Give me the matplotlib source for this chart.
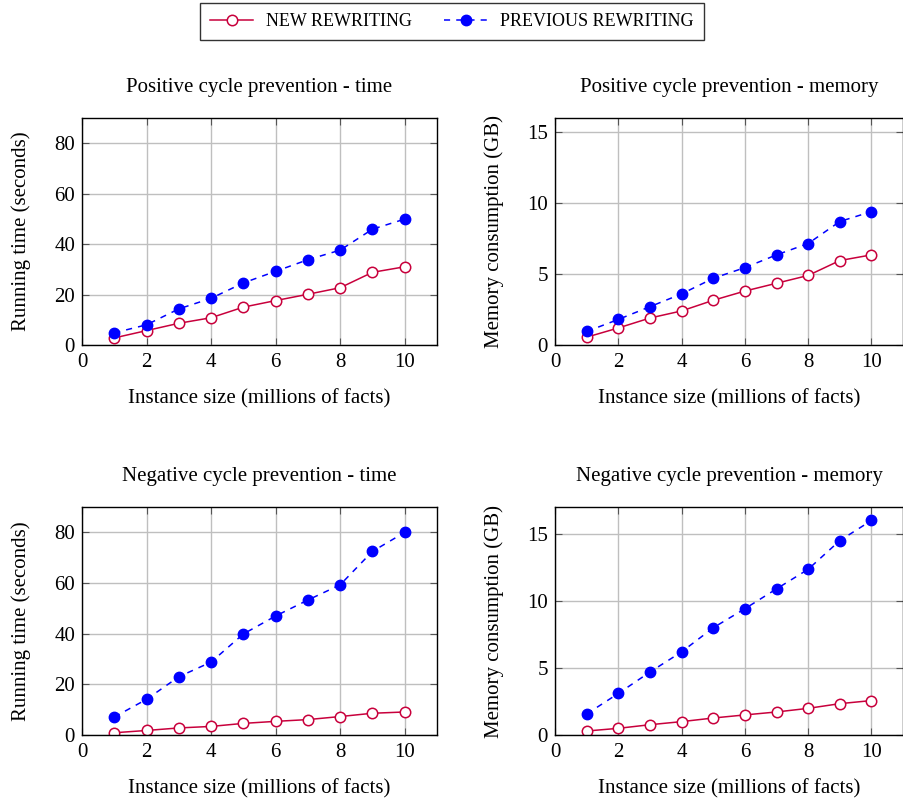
import matplotlib

matplotlib.use("Agg")
import matplotlib.pyplot as plt

plt.rcParams["font.family"] = ["Liberation Serif", "DejaVu Serif"]
plt.rcParams["mathtext.fontset"] = "stix"

sizes = [1, 2, 3, 4, 5, 6, 7, 8, 9, 10]

pos_time_new = [2.8, 5.7, 8.6, 10.8, 15.0, 17.6, 20.1, 22.7, 28.8, 31.0]
pos_time_prev = [4.8, 8.0, 14.3, 18.5, 24.6, 29.2, 33.8, 37.6, 45.9, 49.9]
pos_mem_new = [0.55, 1.2, 1.9, 2.4, 3.15, 3.8, 4.35, 4.9, 5.95, 6.35]
pos_mem_prev = [0.95, 1.8, 2.7, 3.6, 4.7, 5.45, 6.35, 7.15, 8.7, 9.4]
neg_time_new = [0.9, 1.8, 2.8, 3.4, 4.6, 5.4, 6.1, 7.3, 8.6, 9.1]
neg_time_prev = [7.1, 14.1, 23.0, 28.8, 39.9, 47.0, 53.3, 59.3, 72.5, 80.0]
neg_mem_new = [0.3, 0.5, 0.77, 1.0, 1.27, 1.5, 1.72, 1.99, 2.34, 2.57]
neg_mem_prev = [1.57, 3.1, 4.7, 6.2, 8.0, 9.42, 10.9, 12.36, 14.5, 16.0]

panels = [
    ("Positive cycle prevention - time", "Running time (seconds)", pos_time_new, pos_time_prev, 90, [0, 20, 40, 60, 80]),
    ("Positive cycle prevention - memory", "Memory consumption (GB)", pos_mem_new, pos_mem_prev, 16, [0, 5, 10, 15]),
    ("Negative cycle prevention - time", "Running time (seconds)", neg_time_new, neg_time_prev, 90, [0, 20, 40, 60, 80]),
    ("Negative cycle prevention - memory", "Memory consumption (GB)", neg_mem_new, neg_mem_prev, 17, [0, 5, 10, 15]),
]

RED = "#c8003c"
BLUE = "#0000ff"
FS = 15

fig = plt.figure(figsize=(9.04, 7.98), dpi=100)
rects = [
    (0.0907, 0.5677, 0.3927, 0.2845),
    (0.614, 0.5677, 0.385, 0.2845),
    (0.0907, 0.0789, 0.3927, 0.2857),
    (0.614, 0.0789, 0.385, 0.2857),
]

handles = None
for rect, (title, ylabel, new, prev, ytop, yticks) in zip(rects, panels):
    ax = fig.add_axes(rect)
    h1, = ax.plot(sizes, new, color=RED, linewidth=1.1, marker="o", markersize=7.5,
                  markerfacecolor="white", markeredgecolor=RED, markeredgewidth=1.1,
                  label="NEW REWRITING")
    h2, = ax.plot(sizes, prev, color=BLUE, linewidth=1.1, linestyle=(0, (4, 4)), marker="o",
                  markersize=7.5, markerfacecolor=BLUE, markeredgecolor=BLUE,
                  label="PREVIOUS REWRITING")
    if handles is None:
        handles = [h1, h2]
    ax.set_xlim(0, 11)
    ax.set_ylim(0, ytop)
    ax.set_xticks([0, 2, 4, 6, 8, 10])
    ax.set_yticks(yticks)
    ax.grid(True, color="#bfbfbf", linewidth=1.0)
    ax.set_axisbelow(True)
    ax.tick_params(direction="in", top=True, right=True, labelsize=FS, length=5, width=0.8,
                   color="#555555")
    ax.tick_params(axis="x", pad=6)
    ax.tick_params(axis="y", pad=5)
    for s in ax.spines.values():
        s.set_linewidth(1.0)
    ax.set_title(title, fontsize=FS, pad=18.5)
    ax.set_xlabel("Instance size (millions of facts)", fontsize=FS, labelpad=12)
    ax.set_ylabel(ylabel, fontsize=FS, labelpad=17)

leg = fig.legend(handles=handles, loc="upper center", bbox_to_anchor=(0.5, 0.996), ncol=2,
                 fontsize=13, frameon=True, fancybox=False, edgecolor="black",
                 handlelength=2.4, columnspacing=1.8, borderpad=0.55, handletextpad=0.7,
                 borderaxespad=0)
leg.get_frame().set_linewidth(1.0)

fig.savefig("out.png", dpi=100)
